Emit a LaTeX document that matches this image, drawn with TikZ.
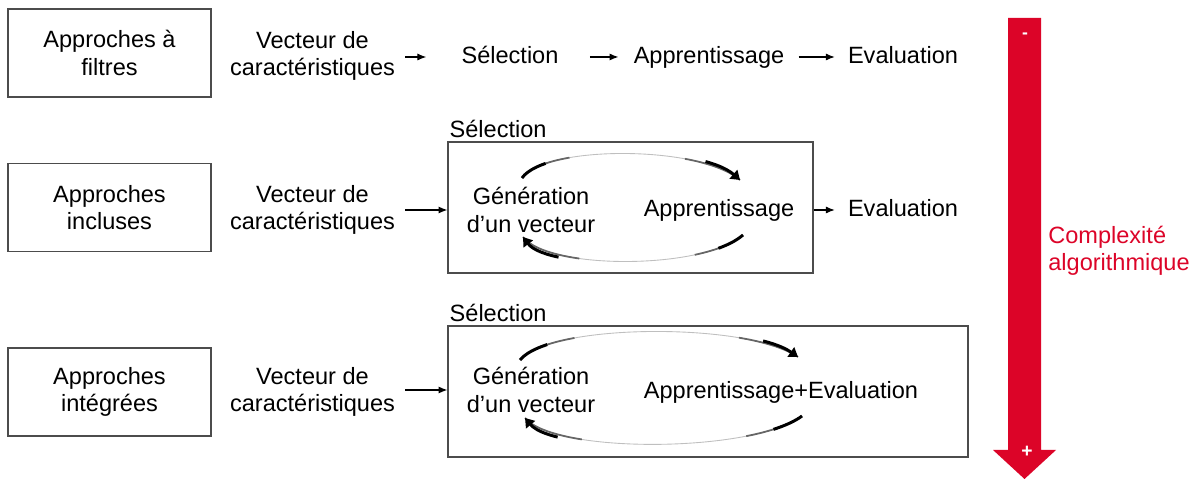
\documentclass[tikz,border=0pt]{standalone}
\usepackage{fontspec}
\setmainfont{Liberation Sans}
\usetikzlibrary{arrows.meta}
\definecolor{complexRed}{RGB}{220,4,40}
\begin{document}
\begin{tikzpicture}[x=0.02cm, y=0.02cm, every node/.style={font=\fontsize{13.4pt}{15.5pt}\selectfont}]
\tikzstyle{approachStyle}=[draw=black!70, line width=0.8pt, minimum width=4.06cm, minimum height=1.76cm, align=center]
\tikzstyle{textStyle}=[align=center, inner sep=0pt]
\tikzstyle{stepText}=[inner sep=0pt, text height=10pt, text depth=3pt]
\tikzstyle{selBoxStyle}=[draw=black!70, line width=0.8pt, minimum height=2.62cm]
\tikzstyle{flowStyle}=[-{Latex[length=5pt,width=4pt]}, line width=0.6pt]
\tikzstyle{loopStyle}=[line width=1.7pt, -{Triangle[length=5pt,width=6.5pt]}, preaction={draw, -, solid, line width=0.5pt, black!25}]
\tikzstyle{loopShort}=[loopStyle, preaction={draw, -, line width=1pt, black!60, dash pattern=on 30pt off 66pt on 80pt}, dash pattern=on 16pt off 92pt on 60pt]
\tikzstyle{loopLong}=[loopStyle, preaction={draw, -, line width=1pt, black!60, dash pattern=on 34pt off 94pt on 90pt}, dash pattern=on 18pt off 124pt on 60pt]
\useasboundingbox (0,0) rectangle (1196,479);

% approches
\node[approachStyle] (a1) at (109.5,426) {Approches à\\filtres};
\node[approachStyle] (a2) at (109.5,271.5) {Approches\\incluses};
\node[approachStyle] (a3) at (109.5,87) {Approches\\intégrées};

\node[textStyle] (v1) at (312.5,423) {Vecteur de\\caractéristiques};
\node[textStyle] (v2) at (312.5,269) {Vecteur de\\caractéristiques};
\node[textStyle] (v3) at (312.5,87) {Vecteur de\\caractéristiques};

% filtres
\node[stepText] (s1) at (510,422) {Sélection};
\node[stepText] (l1) at (709,422) {Apprentissage};
\node[stepText] (e1) at (903,422) {Evaluation};
\draw[flowStyle, shorten <=0.2cm, shorten >=0.7cm] (v1.east |- s1.west) -- (s1.west);
\draw[flowStyle, shorten <=0.62cm, shorten >=0.3cm] (s1.east) -- (l1.west);
\draw[flowStyle, shorten <=0.28cm, shorten >=0.26cm] (l1.east) -- (e1.west);

% incluses
\node[selBoxStyle, minimum width=7.3cm] (b2) at (630.5,271.5) {};
\node[inner sep=0pt, anchor=south west] (t2) at ([shift={(2,3)}]b2.north west) {Sélection};
\node[textStyle] (g2) at (531,269) {Génération\\d’un vecteur};
\node[stepText] (l2) at (719,269) {Apprentissage};
\node[stepText] (e2) at (903,269) {Evaluation};
\draw[flowStyle, shorten <=0.2cm] (v2.east) -- (b2.west |- v2.east);
\draw[flowStyle, shorten >=0.26cm] (b2.east |- e2.west) -- (e2.west);
\draw[loopShort] ([shift={(-9,32)}]g2.center) .. controls +(23,33) and +(-40,35) .. ([shift={(21,30)}]l2.center);
\draw[loopShort] ([shift={(24,-25)}]l2.center) .. controls +(-40,-35) and +(25,-33) .. ([shift={(-8,-27)}]g2.center);

% integrees
\node[selBoxStyle, minimum width=10.4cm] (b3) at (708,87.5) {};
\node[inner sep=0pt, anchor=south west] (t3) at ([shift={(2,3)}]b3.north west) {Sélection};
\node[textStyle] (g3) at (531,89) {Génération\\d’un vecteur};
\node[stepText] (l3) at (781,87) {Apprentissage+Evaluation};
\draw[flowStyle, shorten <=0.2cm] (v3.east |- g3.center) -- (b3.west |- g3.center);
\draw[loopLong] ([shift={(-11,30)}]g3.center) .. controls +(30,37) and +(-50,35) .. ([shift={(17,35)}]l3.center);
\draw[loopLong] ([shift={(21,-24)}]l3.center) .. controls +(-50,-37) and +(30,-36) .. ([shift={(-6,-28)}]g3.center);

% complexite
\fill[complexRed] (1008,461) -- (1041,461) -- (1041,29) -- (1056,29) -- (1024.5,0) -- (993,29) -- (1008,29) -- cycle;
\node[text=white, font=\fontsize{10pt}{12pt}\bfseries] (moins) at (1025,443) {-};
\node[text=white, font=\fontsize{11pt}{12pt}\bfseries] (plus) at (1027,27) {+};
\node[text=complexRed, align=left, anchor=west, inner sep=0pt] (cx) at (1048,228) {Complexité\\algorithmique};
\end{tikzpicture}
\end{document}
